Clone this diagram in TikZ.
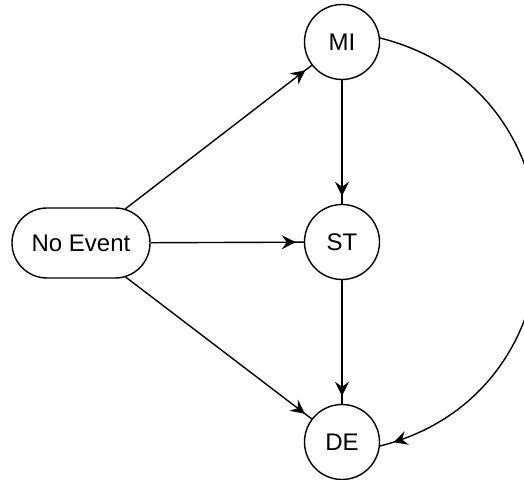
\documentclass[tikz,border=0pt]{standalone}
\usepackage{fontspec}
\setmainfont{Liberation Sans}
\usetikzlibrary{arrows.meta,shapes.misc,decorations.markings}

\begin{document}
\begin{tikzpicture}[x=0.5pt,y=-0.5pt,
line width=0.7pt,
every node/.style={font=\fontsize{12}{14}\selectfont},
state/.style={circle,draw,minimum size=37.5pt,inner sep=0pt},
start/.style={rounded rectangle,draw,minimum width=69pt,minimum height=35pt,inner sep=0pt},
flow/.style={postaction={decorate},decoration={markings,
mark=at position -#1 with {\arrow{Stealth[length=7pt,width=7pt,inset=2.5pt]}}}},
flow/.default=4pt]
\useasboundingbox (0,0) rectangle (524,480);
\clip (0,0) rectangle (524,480);
\node[start] (ne) at (81,243) {No Event};
\node[state] (mi) at (342,42) {MI};
\node[state] (st) at (342,242) {ST};
\node[state] (de) at (342,442) {DE};
\draw[flow] (ne) -- (mi);
\draw[flow] (ne) -- (st);
\draw[flow] (ne) -- (de);
\draw[flow] (mi) -- (st);
\draw[flow] (st) -- (de);
\draw[flow=7pt] (mi.6) to[out=-14,in=14,looseness=1.37] (de.-6);
\end{tikzpicture}
\end{document}
